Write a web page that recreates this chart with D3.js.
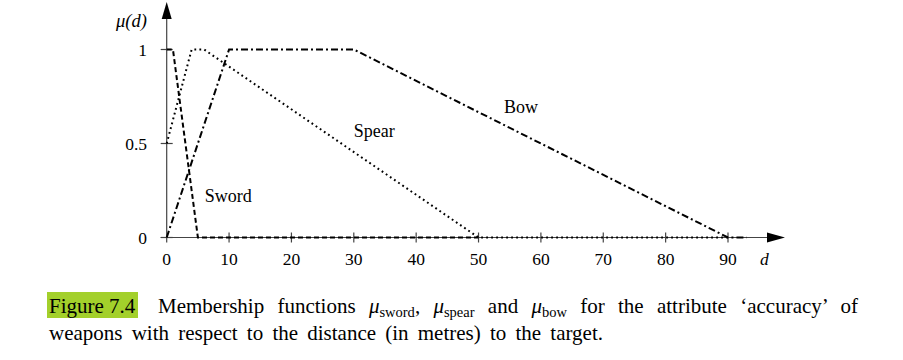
<!DOCTYPE html>
<html><head><meta charset="utf-8">
<script src="https://cdn.jsdelivr.net/npm/d3@7"></script>
<style>body{margin:0;background:#fff}svg{display:block}</style>
</head><body>
<svg id="c" width="903" height="360"></svg>
<script>
const xTicks = [0,10,20,30,40,50,60,70,80,90];
const yTicks = [0,0.5,1];
const yTickLabels = ["0","0.5","1"];
const sword = [[0,1],[1,1],[5,0],[50,0]];
const spear = [[0,0.5],[4,1],[6,1],[50,0],[90,0]];
const bow = [[0,0],[10,1],[30,1],[90,0],[93,0]];
const seriesLabels = [{t:"Sword",x:6.1,y:0.189},{t:"Spear",x:30,y:0.535},{t:"Bow",x:54.1,y:0.662}];

const svg = d3.select("#c");
const font = "'Liberation Serif','DejaVu Serif',serif";
const x = d3.scaleLinear().domain([0,90]).range([166.7,728]);
const y = d3.scaleLinear().domain([0,1]).range([237.5,49.5]);
const axCol = "#444";
const fs = 17.5;

// axes lines
svg.append("line").attr("x1",x(0)-6).attr("x2",774).attr("y1",y(0)).attr("y2",y(0)).attr("stroke",axCol).attr("stroke-width",1.2);
svg.append("line").attr("x1",x(0)).attr("x2",x(0)).attr("y1",y(0)+5).attr("y2",12).attr("stroke",axCol).attr("stroke-width",1.2);
svg.append("path").attr("d",`M${x(0)-5},19 L${x(0)},2 L${x(0)+5},19 Z`).attr("fill","#000");
svg.append("path").attr("d",`M767,${y(0)-5} L785,${y(0)} L767,${y(0)+5} Z`).attr("fill","#000");

// x ticks (crosses)
const gx = svg.append("g");
gx.selectAll("line").data(xTicks.filter(d=>d>0)).join("line")
  .attr("x1",d=>x(d)).attr("x2",d=>x(d)).attr("y1",y(0)-5).attr("y2",y(0)+5)
  .attr("stroke",axCol).attr("stroke-width",1.2);
gx.selectAll("text").data(xTicks).join("text")
  .attr("x",d=>x(d)).attr("y",265).attr("text-anchor","middle")
  .attr("font-family",font).attr("font-size",fs).text(d=>d);
// y ticks
const gy = svg.append("g");
gy.selectAll("line").data(yTicks).join("line")
  .attr("x1",x(0)-6).attr("x2",x(0)+6).attr("y1",d=>y(d)).attr("y2",d=>y(d))
  .attr("stroke",axCol).attr("stroke-width",1.2);
gy.selectAll("text").data(yTicks).join("text")
  .attr("x",147).attr("y",d=>y(d)+6).attr("text-anchor","end")
  .attr("font-family",font).attr("font-size",fs).text((d,i)=>yTickLabels[i]);

// axis titles
svg.append("text").attr("x",116).attr("y",27).attr("font-family",font).attr("font-size",18.5)
  .attr("font-style","italic").text("μ(d)");
svg.append("text").attr("x",760).attr("y",265).attr("font-family",font).attr("font-size",fs)
  .attr("font-style","italic").text("d");

// series
const line = d3.line().x(d=>x(d[0])).y(d=>y(d[1]));
function draw(data,dash,w){
  svg.append("path").attr("d",line(data)).attr("fill","none").attr("stroke","#000")
    .attr("stroke-width",w).attr("stroke-dasharray",dash);
}
draw(sword,"5,3",2);
draw(spear,"1.8,3.2",2);
draw(bow,"7,3,2,3",2);

svg.selectAll("text.sl").data(seriesLabels).join("text").attr("class","sl")
  .attr("x",d=>x(d.x)).attr("y",d=>y(d.y)).attr("font-family",font).attr("font-size",18).text(d=>d.t);

// caption
const cfs = 21;
svg.append("rect").attr("x",47).attr("y",292).attr("width",91).attr("height",26).attr("fill","#a3d02b");
svg.append("text").attr("x",49).attr("y",313).attr("font-family",font).attr("font-size",cfs).text("Figure 7.4");
const rest = svg.append("text").attr("x",158).attr("y",313).attr("font-family",font).attr("font-size",cfs);
rest.append("tspan").text("Membership functions ");
rest.append("tspan").attr("font-style","italic").text("μ");
rest.append("tspan").attr("font-size",14.5).attr("dy",4).text("sword");
rest.append("tspan").attr("dy",-4).text(", ");
rest.append("tspan").attr("font-style","italic").text("μ");
rest.append("tspan").attr("font-size",14.5).attr("dy",4).text("spear");
rest.append("tspan").attr("dy",-4).text(" and ");
rest.append("tspan").attr("font-style","italic").text("μ");
rest.append("tspan").attr("font-size",14.5).attr("dy",4).text("bow");
rest.append("tspan").attr("dy",-4).text(" for the attribute ‘accuracy’ of");
const l2 = svg.append("text").attr("x",49).attr("y",340).attr("font-family",font).attr("font-size",cfs)
  .text("weapons with respect to the distance (in metres) to the target.");
function fit(el, target, spaces){
  const w = el.node().getComputedTextLength();
  el.attr("word-spacing", Math.max(0,(target-w)/spaces));
}
fit(rest, 858-158, 10);
fit(l2, 603-49, 10);
</script>
</body></html>
